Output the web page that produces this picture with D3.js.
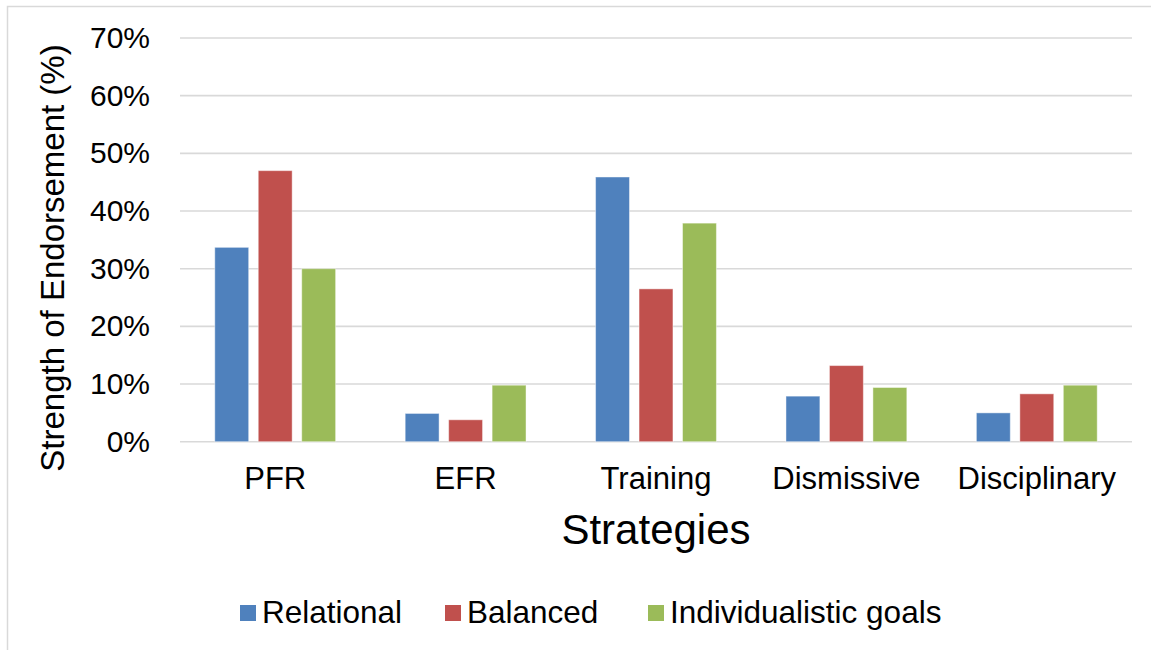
<!DOCTYPE html>
<html>
<head>
<meta charset="utf-8">
<script src="https://cdn.jsdelivr.net/npm/d3@7"></script>
<style>
  html, body { margin: 0; padding: 0; background: #fff; }
  svg { display: block; font-family: "Liberation Sans", Arial, sans-serif; }
</style>
</head>
<body>
<svg id="chart" width="1151" height="650"></svg>
<script>
// Strategy categories and endorsement (%) per goal orientation
const categories = ["PFR", "EFR", "Training", "Dismissive", "Disciplinary"];
const seriesNames = ["Relational", "Balanced", "Individualistic goals"];
const relational = [33.7, 4.9, 45.9, 7.9, 5.0];
const balanced = [47.0, 3.8, 26.5, 13.2, 8.3];
const individualistic = [30.0, 9.8, 37.9, 9.4, 9.8];
const yTicks = [0, 10, 20, 30, 40, 50, 60, 70];
const colors = ["#4f81bd", "#c0504d", "#9bbb59"];

const seriesValues = [relational, balanced, individualistic];
const rows = categories.map((c, i) => ({
  category: c,
  values: seriesNames.map((s, j) => ({ series: s, idx: j, value: seriesValues[j][i] }))
}));

const svg = d3.select("#chart");
const W = 1151, H = 650;
const FONT = "Liberation Sans, Arial, sans-serif";

// outer chart frame
svg.append("path")
  .attr("d", `M7.5,${H + 2} L7.5,6.5 L${W + 2},6.5`)
  .attr("fill", "none")
  .attr("stroke", "#d9d9d9")
  .attr("stroke-width", 1.5);

const plot = { left: 180, right: 1132, top: 38, bottom: 441.7 };

const x = d3.scaleBand()
  .domain(categories)
  .range([plot.left, plot.right]);

const x1 = d3.scaleBand()
  .domain(seriesNames)
  .range([0, x.bandwidth()])
  .paddingInner(0.22)
  .paddingOuter(0.8);

const y = d3.scaleLinear()
  .domain([0, 70])
  .range([plot.bottom, plot.top]);

// horizontal gridlines
svg.append("g")
  .selectAll("line")
  .data(yTicks)
  .join("line")
  .attr("x1", plot.left)
  .attr("x2", plot.right)
  .attr("y1", d => y(d))
  .attr("y2", d => y(d))
  .attr("stroke", "#d9d9d9")
  .attr("stroke-width", 1.6);

// y axis labels
const yAxis = d3.axisLeft(y)
  .tickValues(yTicks)
  .tickFormat(d => d + "%")
  .tickSize(0)
  .tickPadding(0);

svg.append("g")
  .attr("transform", `translate(150,0)`)
  .call(yAxis)
  .call(g => g.select(".domain").remove())
  .call(g => g.selectAll("text")
    .attr("font-size", 30)
    .attr("fill", "#000")
    .attr("font-family", FONT));

// bars
const groups = svg.append("g")
  .selectAll("g")
  .data(rows)
  .join("g")
  .attr("transform", d => `translate(${x(d.category)},0)`);

groups.selectAll("rect")
  .data(d => d.values)
  .join("rect")
  .attr("x", d => x1(d.series))
  .attr("width", x1.bandwidth())
  .attr("y", d => y(d.value))
  .attr("height", d => y(0) - y(d.value))
  .attr("fill", d => colors[d.idx])
  .attr("stroke", "#ffffff")
  .attr("stroke-opacity", 0.45)
  .attr("stroke-width", 1);

// category labels
const xAxis = d3.axisBottom(x).tickSize(0).tickPadding(0);
svg.append("g")
  .attr("transform", `translate(0,${plot.bottom + 25})`)
  .call(xAxis)
  .call(g => g.select(".domain").remove())
  .call(g => g.selectAll("text")
    .attr("font-size", 31)
    .attr("fill", "#000")
    .attr("font-family", FONT));

// axis titles
svg.append("text")
  .attr("x", 656)
  .attr("y", 544)
  .attr("text-anchor", "middle")
  .attr("font-size", 42)
  .attr("fill", "#000")
  .text("Strategies");

svg.append("text")
  .attr("transform", `translate(64,258) rotate(-90)`)
  .attr("text-anchor", "middle")
  .attr("font-size", 33)
  .attr("fill", "#000")
  .text("Strength of Endorsement (%)");

// legend
const legendItems = [
  { name: seriesNames[0], x: 240 },
  { name: seriesNames[1], x: 445 },
  { name: seriesNames[2], x: 648 }
];
const li = svg.append("g")
  .selectAll("g")
  .data(legendItems)
  .join("g")
  .attr("transform", d => `translate(${d.x},605)`);
li.append("rect")
  .attr("width", 16)
  .attr("height", 16)
  .attr("fill", (d, i) => colors[i]);
li.append("text")
  .attr("x", 22)
  .attr("y", 18)
  .attr("font-size", 31.5)
  .attr("fill", "#000")
  .text(d => d.name);
</script>
</body>
</html>
